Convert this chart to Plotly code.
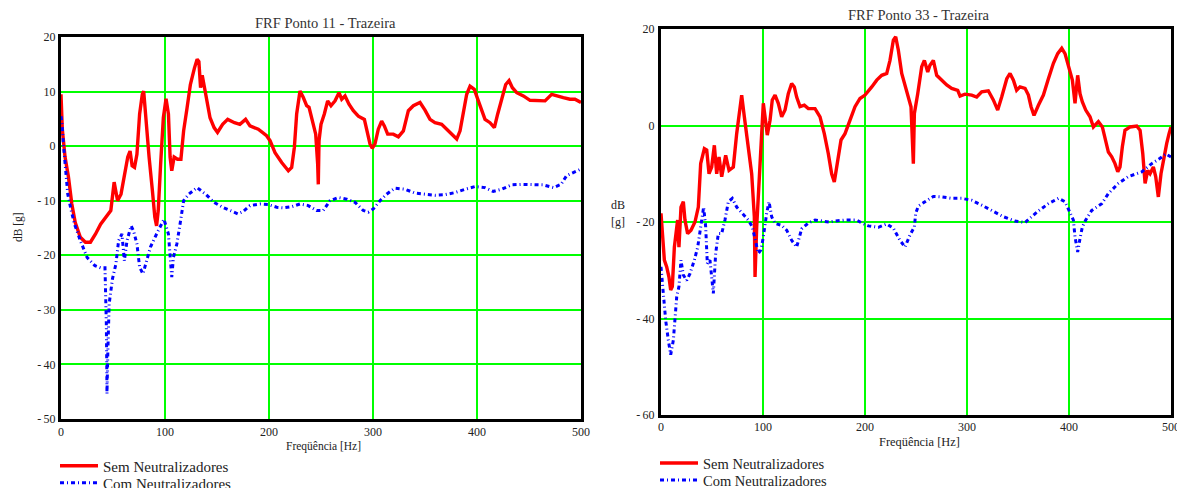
import plotly.graph_objects as go

# ---------------- data (frequency [Hz], level [dB]) ----------------
P11_SEM = [(0,9.5),(1.3,3),(3.9,-2),(7.2,-5.7),(10.4,-10.6),(13.7,-14),(18.6,-16.7),(23.5,-17.6),(28.3,-17.6),
           (33.2,-16.1),(38.1,-14.3),(43,-13),(47.9,-11.8),(51.1,-6.6),(53.7,-9),(54.4,-10),(57.7,-8.8),(60.9,-5.7),
           (64.2,-2),(66.4,-0.9),(68.4,-3.6),(70.7,-3.9),(73,-1.5),(75.6,5.9),(78.2,9.5),(79.5,10.1),(81.4,5.2),
           (84.7,-2),(87.9,-8.2),(90.2,-13),(91.9,-14.6),(93.5,-11.8),(95.8,-3.3),(98.4,5.2),(101,8.7),(103.3,5.9),
           (104.9,-2),(106.5,-4.5),(108.8,-2),(112,-2.4),(115.3,-2.4),(117.9,2.8),(121.2,7),(124.4,11.3),(128.3,14.3),
           (130.9,15.9),(132.6,15.5),(134.2,10.7),(135.8,13),(139.1,9.5),(143.3,5.2),(147.2,3.4),(150.5,2.5),(155.4,4),
           (160.3,4.9),(166.8,4.3),(172,4.0),(177.5,4.9),(181.7,3.7),(189.7,3.1),(197.7,1.9),(201,1),(205.8,-1.2),
           (212.2,-3),(218.6,-4.5),(221.8,-3.9),(224.4,-0.2),(226.6,5.9),(229.8,10.1),(233,8.9),(236.2,7.4),(238.5,7.1),
           (241.7,4.6),(244.9,2.2),(246.8,-3.3),(247.4,-7),(248.1,1),(250,4),(253.2,5.9),(256.4,8.3),(259.6,7.4),
           (263.5,8.3),(267.3,9.8),(269.9,8.6),(273.1,9.2),(276.9,7.7),(281.1,6.5),(285.9,5.5),(291.7,4.9),(294.9,2.2),
           (297.1,0.4),(299.3,-0.4),(301.9,0.4),(305.1,3.1),(308.3,4.6),(310.9,3.7),(314.1,2.2),(319.5,2.2),(324.4,1.7),
           (329.2,2.8),(334,6.5),(338.8,7.4),(345.2,8),(350,6.6),(354.8,4.9),(359.6,4.3),(366,4),(370.9,3.1),(375.7,2.2),
           (380.5,1.3),(383.7,2.8),(386.9,6.5),(390.1,9.5),(393.3,11),(397.4,10.4),(401.3,8.3),(404.5,6.5),(407.7,4.9),
           (412.5,4.3),(416.7,3.4),(419.9,5.9),(424.4,9.2),(427.6,11.3),(430.8,12),(434,10.7),(438.2,9.8),(444.6,9.2),
           (451,8.4),(459,8.4),(465.4,8.3),(471.8,9.5),(476.6,9.2),(483,8.9),(489.4,8.6),(494.2,8.6),(500,8)]

P11_COM = [(0,5.5),(1,4),(2.3,0.4),(4.6,-4.5),(6.5,-8.8),(9.8,-11.8),(13,-14.3),(18.6,-17.3),(25.1,-20.4),(32.6,-21.9),
           (38.1,-22.3),(42.3,-22.3),(43,-27),(43.6,-32.6),(44,-39.9),(44.2,-45.4),(45,-38),(46.3,-28.9),(49.5,-24.3),
           (52.8,-21.6),(55.4,-17.3),(58.6,-16.1),(60.9,-21),(63.5,-17.3),(67.4,-14.6),(69.7,-15.5),(73,-17.9),
           (75.6,-22.2),(78.8,-23.4),(82.1,-21),(86,-18.5),(91.9,-16.1),(99,-13.4),(103.3,-16.1),(104.9,-20.7),
           (106.5,-24),(108.1,-20.4),(111.4,-17.9),(114.7,-14),(117.9,-10),(122.8,-8.8),(130.9,-7.6),(139.1,-8.8),
           (147.2,-10.3),(155.4,-11.2),(163.5,-11.8),(170,-12.4),(175,-12.0),(181.7,-10.9),(191.3,-10.6),(199.4,-10.7),
           (207.4,-11.2),(213.8,-11.3),(221.8,-11.1),(229.8,-10.6),(237.8,-10.9),(245.8,-11.8),(252.2,-11.8),(258.6,-10),
           (266.7,-9.4),(274.7,-9.7),(282.7,-10.3),(290.7,-11.8),(295.5,-12.1),(300.3,-11.5),(306.7,-10),(313.1,-8.8),
           (321.1,-7.7),(330.8,-7.9),(340.4,-8.6),(350,-8.8),(359.6,-9),(369.2,-8.9),(378.9,-8.5),(388.5,-7.9),
           (398.1,-7.4),(407.7,-7.6),(415.7,-8.3),(423.7,-7.9),(433.3,-7.1),(443,-7),(452.6,-7),(463.8,-7.1),
           (473.4,-7.6),(480.8,-7),(486.2,-5.4),(492.6,-4.8),(499,-4.2),(500,-4.2)]

P33_SEM = [(0,-18.2),(1.3,-22.4),(3.3,-27.9),(5.6,-29.3),(7.8,-31.4),(9.5,-34.1),(11.1,-33.4),(13.1,-25.2),(14.4,-23.1),
           (16.3,-19.6),(17.6,-25.2),(19.6,-16.9),(21.9,-15.8),(23.5,-19.6),(26.1,-22.4),(29.4,-21.7),(33.3,-20),
           (36.6,-16.9),(38.9,-7.9),(42.5,-4.8),(44.8,-5.1),(47.1,-10),(49.7,-8.6),(52.3,-4.1),(54.6,-10),(56.9,-6.5),
           (59.5,-10.6),(63.4,-6.2),(66.7,-9.3),(70.9,-8.6),(74.2,-1.7),(77.5,4.6),(79.1,6.3),(81.7,1.8),(85,-3.7),
           (88.9,-10),(91.5,-18.9),(92.2,-31.4),(93.8,-21),(96.1,-12.7),(98.7,-1.7),(100.3,4.6),(102,1.8),(104.2,-2),
           (106.9,1.1),(109.1,5.3),(111.8,6.3),(115,4.6),(118.3,1.8),(121.6,3.2),(124.8,6.6),(128.1,8.7),(130.7,8),
           (133,5.9),(136.3,3.9),(140.5,4.2),(144.4,3.5),(151,3.5),(155.9,1.8),(160.1,-1.7),(164,-5.8),(167.3,-10),
           (169.9,-11.7),(173.2,-7.2),(176.5,-3),(180.4,-1.7),(185.3,1.1),(190.2,3.9),(195.1,5.6),(200,6.3),(206.6,8),
           (211.5,9.4),(216.4,10.4),(221.3,10.8),(224.5,13.5),(227.8,17.7),(230.1,18.4),(232.7,15.6),(236,10.8),
           (240.9,7.3),(245.1,3.9),(247.4,-7.9),(248.4,2.5),(251.7,6.6),(255.6,12.2),(258.2,13.5),(261.5,11.1),
           (263.7,12.5),(267,13.5),(270.3,10.4),(275.2,9.4),(280.1,8.4),(285,7.7),(290.9,7.3),(293.2,6.1),(298,6.5),
           (304.6,6.3),(309.5,5.9),(314.4,7),(320.9,7.2),(325.8,5.3),(330.1,3.2),(334,5.9),(339,9.7),(342.2,10.8),
           (345.5,9.4),(348.7,7.3),(352,8),(356.9,7.7),(360.2,6.3),(362.8,3.9),(365.7,2.1),(370,4.2),(374.9,6.3),
           (379.8,9.7),(384.7,12.9),(388.9,14.9),(392.9,16),(396.1,14.9),(400,11.8),(403.3,9.4),(405.9,4.6),(408.5,10.4),
           (410.8,6.6),(413.1,4.9),(416.4,3.2),(420.6,1.8),(423.9,-0.3),(428.8,0.8),(432.7,-0.3),(436,-3),(438.6,-5.5),
           (441.9,-6.5),(445.1,-7.9),(447.8,-9.6),(450,-8.6),(452.3,-4.4),(454.9,-1),(459.9,-0.3),(466.4,-0.1),
           (469.7,-1),(472.3,-5.8),(474.6,-12),(477.2,-9.3),(479.5,-10),(482.7,-8.6),(485,-10.6),(487.6,-14.8),
           (490.2,-10),(493.5,-5.8),(495.8,-3.7),(498.1,-1.7),(500,-0.3)]

P33_COM = [(0,-29.3),(2.3,-34.8),(4.6,-40.4),(7.2,-44.5),(9.5,-47.5),(12.1,-44.5),(13.7,-40.4),(15.4,-35.5),(17.6,-33.4),
           (19.6,-27.9),(21.9,-31),(25.2,-32.1),(28.4,-30.7),(32.7,-27.9),(36,-25.2),(39.2,-21),(41.8,-16.9),(43.8,-21),
           (45.4,-28.6),(48,-27.9),(50.3,-32.8),(51.3,-34.8),(53.6,-26.5),(56.2,-22.4),(59.5,-22.4),(62.7,-19.6),
           (66,-15.8),(69.9,-15.1),(74.2,-16.9),(79.7,-18.2),(85.6,-19.6),(89.5,-21),(92.2,-23.8),(95.4,-26.5),(98,-25.8),
           (100.3,-23.1),(103.6,-18.2),(105.9,-15.8),(108.5,-18.9),(111.8,-20.3),(118.3,-20.7),(123.2,-21.7),
           (128.1,-23.8),(133,-25.2),(137.9,-21.4),(144.4,-20.2),(151,-19.6),(157.5,-19.8),(165,-20),(170.6,-19.8),
           (180.4,-19.6),(191.8,-19.6),(196.7,-20.2),(203.3,-20.8),(213.1,-21.1),(221.3,-20.4),(227.8,-21.3),
           (234.3,-23.8),(239.2,-25.2),(244.1,-22.7),(248.4,-21),(249.7,-18.2),(252.3,-16.7),(258.8,-15.8),(267,-14.7),
           (275.2,-14.8),(285,-15.1),(294.8,-15.1),(304.6,-15.5),(314.4,-16.5),(324.2,-17.6),(335.6,-18.9),
           (347.1,-19.8),(356.9,-20.1),(363.4,-18.9),(370,-17.7),(379.8,-16.2),(389.6,-15.1),(396.1,-15.8),(401,-17.9),
           (404.3,-19.6),(405.9,-23.1),(408.5,-26.2),(410.8,-23.4),(413.1,-21),(416.4,-19.6),(422.3,-17.6),
           (432.1,-16.2),(438.6,-14.1),(448.4,-12),(458.2,-10.6),(471.3,-9.6),(481.1,-7.9),(489.3,-6.8),(494.8,-5.9),
           (500,-6.5)]

SERIES_NAMES = ["Sem Neutralizadores", "Com Neutralizadores"]
TITLES = ["FRF Ponto 11 - Trazeira", "FRF Ponto 33 - Trazeira"]
X_TITLE = "Freqüência [Hz]"
X_TICKS = [0, 100, 200, 300, 400, 500]
Y_TICKS_11 = [20, 10, 0, -10, -20, -30, -40, -50]
Y_TICKS_33 = [20, 0, -20, -40, -60]

# ---------------- figure ----------------
# the page body has an 8px margin; the figure is sized so it ends at the window edge
PAGE_OFF = 8
FW, FH = 1185 - PAGE_OFF, 488 - PAGE_OFF
FONT = "Liberation Serif, Times New Roman, serif"
RED, BLUE, GREEN = "#ff0000", "#0000ff", "#00ff00"
DASHDOT = "4px,3px,1px,3px"

def fx(p):  # page x pixel -> paper fraction
    return (p - PAGE_OFF) / FW

def fy(p):  # page y pixel -> paper fraction
    return 1 - (p - PAGE_OFF) / FH

def xs(p): return [a for a, b in p]
def ys(p): return [b for a, b in p]

fig = go.Figure()
fig.add_trace(go.Scatter(x=xs(P11_SEM), y=ys(P11_SEM), name=SERIES_NAMES[0], mode="lines",
                         line=dict(color=RED, width=3.4), xaxis="x", yaxis="y", legend="legend"))
fig.add_trace(go.Scatter(x=xs(P11_COM), y=ys(P11_COM), name=SERIES_NAMES[1], mode="lines",
                         line=dict(color=BLUE, width=3, dash=DASHDOT), xaxis="x", yaxis="y", legend="legend2"))
fig.add_trace(go.Scatter(x=xs(P33_SEM), y=ys(P33_SEM), name=SERIES_NAMES[0], mode="lines",
                         line=dict(color=RED, width=3.4), xaxis="x2", yaxis="y2", legend="legend3"))
fig.add_trace(go.Scatter(x=xs(P33_COM), y=ys(P33_COM), name=SERIES_NAMES[1], mode="lines",
                         line=dict(color=BLUE, width=3, dash=DASHDOT), xaxis="x2", yaxis="y2", legend="legend4"))

def neg(v):
    return str(v) if v >= 0 else "-\u2009" + str(-v)

axis_common = dict(showline=True, mirror=True, linecolor="black", linewidth=3,
                   showgrid=True, gridcolor=GREEN, gridwidth=2, zeroline=False, automargin=False,
                   ticks="", tickfont=dict(family=FONT, size=12, color="#222"))

def legend_at(xp, yp, size):
    return dict(x=fx(xp), y=fy(yp), xref="paper", yref="paper", xanchor="left", yanchor="middle",
                bgcolor="rgba(0,0,0,0)", borderwidth=0, font=dict(family=FONT, size=size, color="#222"),
                tracegroupgap=0, itemwidth=38)

def note(text, xp, yp, size, angle=0, color="#222"):
    return dict(text=text, x=fx(xp), y=fy(yp), xref="paper", yref="paper", showarrow=False,
                xanchor="center", yanchor="middle", textangle=angle,
                font=dict(family=FONT, size=size, color=color))

fig.update_layout(
    width=FW, height=FH, autosize=False,
    margin=dict(l=0, r=0, t=0, b=0, autoexpand=False),
    font=dict(family=FONT, color="#222"),
    paper_bgcolor="white", plot_bgcolor="white",
    showlegend=True,
    xaxis=dict(domain=[fx(61), fx(581)], range=[0, 500], tickvals=X_TICKS, anchor="y",
               ticklabelstandoff=0, **axis_common),
    yaxis=dict(domain=[fy(419), fy(37)], range=[-50, 20], tickvals=Y_TICKS_11,
               ticktext=[neg(v) for v in Y_TICKS_11], anchor="x", ticklabelstandoff=0, **axis_common),
    xaxis2=dict(domain=[fx(661), fx(1171)], range=[0, 500], tickvals=X_TICKS, anchor="y2",
                ticklabelstandoff=-1, **axis_common),
    yaxis2=dict(domain=[fy(415), fy(29)], range=[-60, 20], tickvals=Y_TICKS_33,
                ticktext=[neg(v) for v in Y_TICKS_33], anchor="x2", ticklabelstandoff=1, **axis_common),
    legend=legend_at(55, 466, 15),
    legend2=legend_at(55, 483, 15),
    legend3=legend_at(655, 463, 14.5),
    legend4=legend_at(655, 480, 14.5),
    annotations=[
        note(TITLES[0], 325, 23, 14.5, color="#333"),
        note(TITLES[1], 919, 15, 14.5, color="#333"),
        note(X_TITLE, 323, 446, 11.5),
        note(X_TITLE, 920, 442, 12.4),
        note("dB [g]", 18, 227, 11.5, angle=-90),
        note("dB", 618, 205, 12),
        note("[g]", 618, 222, 12),
    ],
)

fig.write_html("out.html")
